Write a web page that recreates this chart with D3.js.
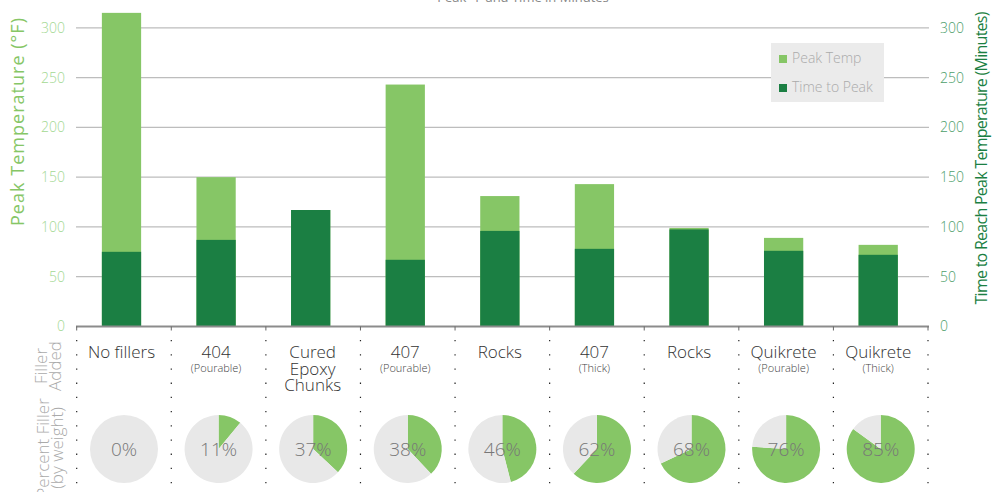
<!DOCTYPE html>
<html>
<head>
<meta charset="utf-8">
<script src="https://cdn.jsdelivr.net/npm/d3@7"></script>
<style>
  body { margin: 0; background: #fff; }
  text { font-family: "Open Sans", "DejaVu Sans", sans-serif; }
</style>
</head>
<body>
<script>
// Chart data
const fillers = ['No fillers', '404', 'Cured Epoxy Chunks', '407', 'Rocks', '407', 'Rocks', 'Quikrete', 'Quikrete'];
const subLabels = ['', '(Pourable)', '', '(Pourable)', '', '(Thick)', '', '(Pourable)', '(Thick)'];
const peakTemp = [315, 150, 117, 243, 131, 143, 99, 89, 82];
const timeToPeak = [75, 87, 117, 67, 96, 78, 97.5, 76, 72];
const percentFiller = [0, 11, 37, 38, 46, 62, 68, 76, 85];
const yTicks = [0, 50, 100, 150, 200, 250, 300];

const lightGreen = '#86c666', darkGreen = '#1b7f43';

const W = 993, H = 492;
const svg = d3.select('body').append('svg')
    .attr('width', W)
    .attr('height', H);

// Scales
const x = d3.scaleBand()
    .domain(d3.range(fillers.length))
    .range([76.7, 928]);
const xBar = d3.scaleBand()
    .domain(d3.range(fillers.length))
    .range([74.2, 925.5])
    .paddingInner(0.585)
    .paddingOuter(0.2925);
const y = d3.scaleLinear().domain([0, 300]).range([326.5, 27.8]);

// Cut-off title at the very top
svg.append('text')
    .attr('x', 523).attr('y', 2)
    .attr('text-anchor', 'middle')
    .attr('font-size', 13).attr('fill', '#888')
    .text('Peak °F and Time in Minutes');

// Gridlines
svg.append('g')
    .selectAll('line')
    .data(yTicks.filter(d => d > 0))
    .enter().append('line')
    .attr('x1', 76).attr('x2', 929)
    .attr('y1', d => y(d)).attr('y2', d => y(d))
    .attr('stroke', '#bdbdbd').attr('stroke-width', 1.2);

// Left axis (peak temperature)
const leftAxis = svg.append('g')
    .attr('transform', 'translate(76,0)')
    .call(d3.axisLeft(y).tickValues(yTicks).tickSize(0).tickPadding(11));
leftAxis.select('.domain').remove();
leftAxis.selectAll('text')
    .attr('font-size', 14).attr('fill', '#a3d893')
    .attr('font-family', '"Open Sans", sans-serif').attr('font-weight', 300);

// Right axis (time)
const rightAxis = svg.append('g')
    .attr('transform', 'translate(929,0)')
    .call(d3.axisRight(y).tickValues(yTicks).tickSize(0).tickPadding(11));
rightAxis.select('.domain').remove();
rightAxis.selectAll('text')
    .attr('font-size', 14).attr('fill', '#4c9e6a')
    .attr('font-family', '"Open Sans", sans-serif').attr('font-weight', 300);

// Axis titles
svg.append('text')
    .attr('transform', 'translate(24,122) rotate(-90)')
    .attr('text-anchor', 'middle')
    .attr('font-size', 18).attr('fill', lightGreen)
    .attr('textLength', 208).attr('lengthAdjust', 'spacing')
    .text('Peak Temperature (°F)');
svg.append('text')
    .attr('transform', 'translate(987,158) rotate(-90)')
    .attr('text-anchor', 'middle')
    .attr('font-size', 16).attr('fill', darkGreen)
    .attr('textLength', 293).attr('lengthAdjust', 'spacing')
    .text('Time to Reach Peak Temperature (Minutes)');

// Bars: peak temp behind, time to peak in front
svg.append('g')
    .selectAll('rect')
    .data(peakTemp)
    .enter().append('rect')
    .attr('x', (d, i) => xBar(i))
    .attr('width', xBar.bandwidth())
    .attr('y', d => y(d))
    .attr('height', d => y(0) - y(d))
    .attr('fill', lightGreen);
svg.append('g')
    .selectAll('rect')
    .data(timeToPeak)
    .enter().append('rect')
    .attr('x', (d, i) => xBar(i))
    .attr('width', xBar.bandwidth())
    .attr('y', d => y(d))
    .attr('height', d => y(0) - y(d))
    .attr('fill', darkGreen);

// Baseline with small ticks at band edges
svg.append('line')
    .attr('x1', 76).attr('x2', 929)
    .attr('y1', y(0)).attr('y2', y(0))
    .attr('stroke', '#8c8c8c').attr('stroke-width', 2);
const edges = d3.range(fillers.length + 1).map(i => x.range()[0] + i * x.step());
svg.append('g')
    .selectAll('line')
    .data(edges)
    .enter().append('line')
    .attr('x1', d => d).attr('x2', d => d)
    .attr('y1', y(0)).attr('y2', y(0) + 4)
    .attr('stroke', '#666').attr('stroke-width', 1);

// Dotted separators below the chart
svg.append('g')
    .selectAll('line')
    .data(edges)
    .enter().append('line')
    .attr('x1', d => d).attr('x2', d => d)
    .attr('y1', 340).attr('y2', H)
    .attr('stroke', '#222').attr('stroke-width', 1.2)
    .attr('stroke-dasharray', '1.3 12.9');

// Legend
const legend = svg.append('g').attr('transform', 'translate(771,43)');
legend.append('rect')
    .attr('width', 113).attr('height', 59)
    .attr('fill', '#ebebeb');
const legendItems = [['Peak Temp', lightGreen], ['Time to Peak', darkGreen]];
legendItems.forEach(([name, color], i) => {
    legend.append('rect')
        .attr('x', 8).attr('y', 12 + i * 29)
        .attr('width', 8).attr('height', 8)
        .attr('fill', color);
    legend.append('text')
        .attr('x', 21).attr('y', 20 + i * 29)
        .attr('font-size', 14).attr('fill', '#aaa')
        .attr('font-weight', 300)
        .text(name);
});

// Row titles
const rowTitle = (cx, cy, lines) => {
    lines.forEach((t, i) => {
        svg.append('text')
            .attr('transform', `translate(${cx + i * 14},${cy}) rotate(-90)`)
            .attr('text-anchor', 'middle')
            .attr('font-size', 17).attr('fill', '#aaa')
            .attr('font-weight', 300)
            .text(t);
    });
};
rowTitle(47, 366, ['Filler', 'Added']);
rowTitle(49, 448, ['Percent Filler', '(by weight)']);

// Category labels
const labels = svg.append('g');
fillers.forEach((name, i) => {
    const cx = xBar(i) + xBar.bandwidth() / 2;
    const words = name === 'Cured Epoxy Chunks' ? name.split(' ') : [name];
    words.forEach((w, j) => {
        labels.append('text')
            .attr('x', cx + (words.length > 1 ? 2 : 0)).attr('y', 358 + j * 16.5)
            .attr('text-anchor', 'middle')
            .attr('font-size', 17).attr('fill', '#333')
            .attr('font-weight', 300)
            .text(w);
    });
    if (subLabels[i]) {
        labels.append('text')
            .attr('x', cx).attr('y', 372)
            .attr('text-anchor', 'middle')
            .attr('font-size', 11).attr('fill', '#444')
            .attr('font-weight', 300)
            .text(subLabels[i]);
    }
});

// Pies for percent filler
const pie = d3.pie().sort(null);
const arc = d3.arc().innerRadius(0).outerRadius(34);
percentFiller.forEach((p, i) => {
    const g = svg.append('g')
        .attr('transform', `translate(${x(i) + x.bandwidth() / 2},449)`);
    g.selectAll('path')
        .data(pie([p, 100 - p]))
        .enter().append('path')
        .attr('d', arc)
        .attr('fill', (d, j) => j === 0 ? lightGreen : '#e8e8e8');
    g.append('text')
        .attr('y', 7)
        .attr('text-anchor', 'middle')
        .attr('font-size', 19).attr('fill', '#777')
        .attr('font-weight', 300)
        .text(p + '%');
});
</script>
</body>
</html>
